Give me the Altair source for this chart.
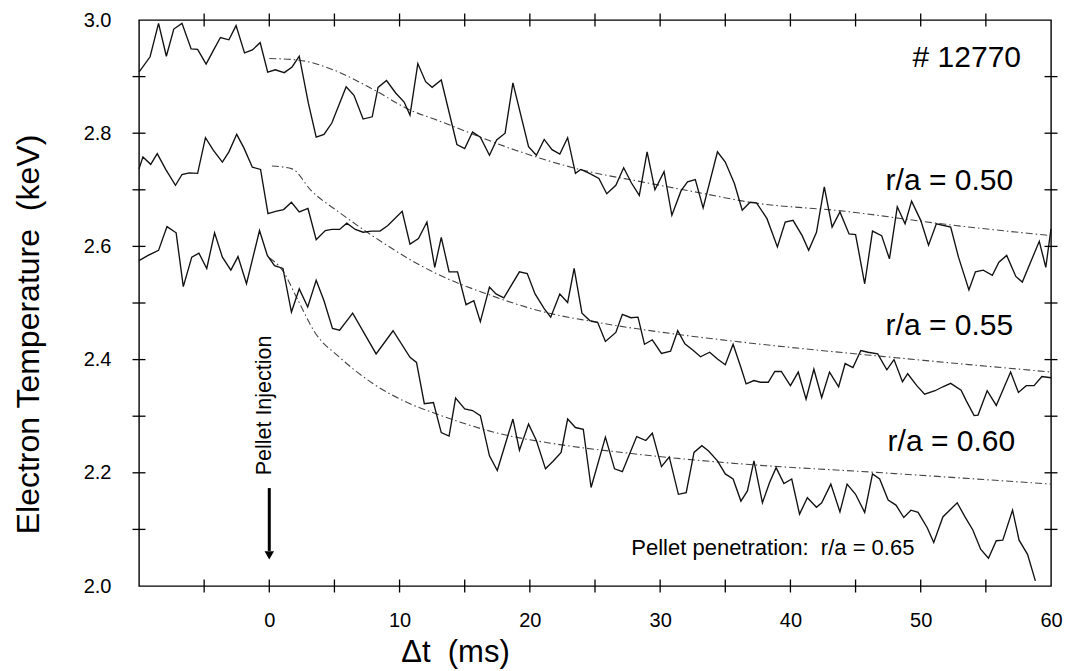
import altair as alt
import pandas as pd

# ---- r/a = 0.50 measured trace ----
t1 = [-10.0, -9.15, -8.5, -7.9, -7.33, -6.7, -6.0, -5.5, -4.85, -4.3,
      -3.75, -3.1, -2.55, -1.9, -1.3, -0.7, -0.12, 0.46, 1.15, 1.75,
      2.3, 3.0, 3.6, 4.2, 4.8, 5.9, 6.5, 7.2, 7.9, 8.35,
      9.0, 9.7, 10.35, 10.8, 11.4, 12.0, 12.5, 13.2, 14.4, 15.0,
      15.6, 16.2, 16.9, 17.45, 18.1, 18.7, 19.9, 20.5, 21.1, 21.7,
      22.3, 22.9, 23.5, 23.9, 24.5, 25.3, 25.9, 26.6, 27.2, 27.8,
      28.4, 29.0, 29.6, 30.3, 30.9, 31.6, 32.1, 32.7, 33.3, 34.4,
      35.0, 35.7, 36.3, 36.9, 37.4, 38.2, 39.0, 39.6, 40.2, 40.9,
      41.4, 42.0, 42.6, 43.2, 43.8, 44.5, 45.0, 45.7, 46.3, 47.0,
      47.6, 48.2, 48.8, 49.3, 50.0, 50.6, 51.2, 52.3, 52.9, 53.7,
      54.2, 54.8, 55.5, 56.0, 56.6, 57.3, 57.8, 59.1, 59.6, 60.0]
T1 = [2.908, 2.935, 2.994, 2.936, 2.984, 2.994, 2.949, 2.948, 2.922, 2.946,
      2.969, 2.965, 2.99, 2.942, 2.947, 2.96, 2.908, 2.912, 2.907, 2.917,
      2.936, 2.853, 2.793, 2.798, 2.818, 2.882, 2.867, 2.825, 2.829, 2.881,
      2.893, 2.871, 2.855, 2.832, 2.923, 2.891, 2.881, 2.894, 2.78, 2.773,
      2.802, 2.793, 2.761, 2.788, 2.8, 2.889, 2.776, 2.761, 2.789, 2.771,
      2.763, 2.792, 2.729, 2.736, 2.73, 2.72, 2.693, 2.708, 2.739, 2.712,
      2.69, 2.767, 2.7, 2.732, 2.655, 2.698, 2.714, 2.718, 2.668, 2.767,
      2.749, 2.711, 2.664, 2.678, 2.677, 2.649, 2.599, 2.643, 2.646, 2.619,
      2.593, 2.625, 2.705, 2.634, 2.661, 2.622, 2.621, 2.534, 2.627, 2.619,
      2.578, 2.67, 2.64, 2.68, 2.646, 2.602, 2.64, 2.634, 2.581, 2.523,
      2.555, 2.558, 2.549, 2.572, 2.584, 2.547, 2.537, 2.609, 2.563, 2.631]

# ---- r/a = 0.55 measured trace ----
t2 = [-10.0, -9.7, -9.1, -8.6, -7.95, -7.2, -6.7, -6.15, -5.5, -4.9,
      -4.3, -3.6, -3.1, -2.5, -1.95, -1.3, -0.67, -0.1, 0.48, 1.1,
      1.7, 2.3, 2.97, 3.6, 4.3, 4.8, 5.4, 5.95, 6.6, 7.2,
      7.85, 8.5, 9.1, 10.2, 10.8, 11.45, 12.1, 12.7, 13.2, 13.8,
      14.45, 15.1, 15.7, 16.2, 16.9, 17.4, 18.0, 19.2, 19.8, 20.4,
      21.1, 21.6, 22.3, 22.9, 23.4, 24.0, 24.6, 25.2, 25.8, 26.6,
      27.1, 27.75, 28.3, 28.8, 29.4, 30.1, 30.8, 31.35, 31.9, 32.55,
      33.1, 33.8, 34.4, 35.0, 35.6, 36.2, 36.6, 37.2, 37.7, 38.3,
      38.8, 39.3, 40.0, 40.6, 41.2, 41.8, 42.4, 43.0, 43.7, 44.2,
      44.8, 45.4, 45.95, 46.7, 47.4, 47.95, 48.6, 49.0, 49.7, 50.3,
      51.1, 51.7, 52.3, 53.1, 53.5, 54.1, 54.4, 55.1, 55.8, 56.9,
      57.5, 58.1, 58.7, 59.3, 60.0]
T2 = [2.737, 2.758, 2.745, 2.764, 2.736, 2.708, 2.727, 2.73, 2.729, 2.792,
      2.77, 2.749, 2.767, 2.798, 2.774, 2.74, 2.736, 2.658, 2.662, 2.665,
      2.678, 2.661, 2.667, 2.612, 2.628, 2.63, 2.63, 2.641, 2.63, 2.625,
      2.627, 2.627, 2.637, 2.662, 2.604, 2.614, 2.643, 2.563, 2.616, 2.555,
      2.555, 2.497, 2.504, 2.467, 2.528, 2.516, 2.509, 2.555, 2.552, 2.516,
      2.49, 2.475, 2.516, 2.501, 2.561, 2.482, 2.469, 2.466, 2.432, 2.448,
      2.48, 2.474, 2.475, 2.427, 2.435, 2.411, 2.415, 2.451, 2.428, 2.416,
      2.405, 2.413, 2.401, 2.391, 2.427, 2.386, 2.357, 2.363, 2.36, 2.36,
      2.379, 2.379, 2.354, 2.378, 2.33, 2.383, 2.333, 2.378, 2.352, 2.393,
      2.386, 2.416, 2.413, 2.41, 2.382, 2.4, 2.361, 2.375, 2.354, 2.339,
      2.345, 2.352, 2.358, 2.346, 2.327, 2.301, 2.302, 2.345, 2.319, 2.378,
      2.342, 2.354, 2.354, 2.37, 2.368]

# ---- r/a = 0.60 measured trace ----
t3 = [-10.0, -9.3, -8.5, -7.85, -7.15, -6.6, -5.95, -5.4, -4.8, -4.2,
      -3.6, -2.95, -2.4, -1.75, -0.75, -0.15, 0.4, 1.05, 1.7, 2.3,
      2.95, 3.6, 4.2, 4.85, 5.4, 6.4, 8.2, 9.5, 10.8, 11.3,
      11.9, 12.6, 13.2, 13.8, 14.3, 15.0, 15.6, 16.2, 16.9, 17.5,
      18.7, 19.2, 19.9, 20.5, 21.2, 21.8, 22.4, 22.9, 23.5, 24.1,
      24.7, 25.8, 26.5, 27.1, 27.7, 28.2, 28.9, 29.4, 30.1, 30.7,
      31.4, 32.0, 32.6, 33.2, 33.7, 34.4, 35.0, 35.6, 36.2, 36.7,
      37.2, 37.85, 38.4, 38.9, 39.5, 40.1, 40.7, 41.3, 42.0, 42.4,
      43.1, 43.8, 44.35, 45.0, 45.7, 46.3, 46.85, 47.5, 48.1, 48.7,
      49.25, 49.8, 50.5, 51.0, 51.7, 52.8, 53.4, 54.0, 54.6, 55.2,
      55.8, 56.3, 57.05, 57.55, 58.2, 58.8]
T3 = [2.575, 2.584, 2.593, 2.635, 2.624, 2.529, 2.581, 2.588, 2.561, 2.624,
      2.581, 2.558, 2.582, 2.534, 2.628, 2.584, 2.566, 2.561, 2.484, 2.525,
      2.493, 2.54, 2.504, 2.455, 2.452, 2.482, 2.41, 2.451, 2.404, 2.395,
      2.322, 2.324, 2.271, 2.265, 2.332, 2.313, 2.31, 2.301, 2.23, 2.204,
      2.295, 2.24, 2.286, 2.257, 2.207, 2.221, 2.236, 2.295, 2.28, 2.277,
      2.174, 2.263, 2.207, 2.202, 2.236, 2.264, 2.257, 2.27, 2.211, 2.228,
      2.162, 2.165, 2.236, 2.248, 2.239, 2.221, 2.198, 2.189, 2.15, 2.168,
      2.221, 2.147, 2.183, 2.209, 2.181, 2.189, 2.127, 2.156, 2.139, 2.147,
      2.18, 2.131, 2.18, 2.162, 2.13, 2.198, 2.189, 2.152, 2.143, 2.121,
      2.134, 2.13, 2.103, 2.077, 2.122, 2.147, 2.122, 2.099, 2.065, 2.049,
      2.08, 2.081, 2.134, 2.081, 2.056, 2.009]

# ---- model (fit) curves ----
f1_t = [0.0, 2.3, 4.9, 8.0, 10.8, 13.0, 18.9, 24.0, 28.6, 33.2, 36.9, 44.2, 51.9, 60.0]
f1_T = [2.932, 2.929, 2.912, 2.877, 2.841, 2.822, 2.770, 2.735, 2.714, 2.694, 2.678, 2.662, 2.639, 2.619]
f2_t = [0.2, 1.75, 3.2, 5.5, 8.1, 11.4, 13.0, 16.7, 21.1, 24.6, 31.2, 37.0, 47.8, 60.0]
f2_T = [2.742, 2.737, 2.699, 2.658, 2.616, 2.569, 2.55, 2.516, 2.484, 2.468, 2.445, 2.429, 2.404, 2.378]
f3_t = [0.0, 1.0, 2.2, 3.5, 5.4, 8.0, 10.8, 12.6, 17.9, 21.7, 27.8, 36.6, 46.4, 60.0]
f3_T = [2.58, 2.558, 2.505, 2.448, 2.404, 2.357, 2.322, 2.306, 2.268, 2.252, 2.234, 2.215, 2.201, 2.18]

# ---- axis ticks / labels ----
x_labels = [0, 10, 20, 30, 40, 50, 60]
y_labels = [2.0, 2.2, 2.4, 2.6, 2.8, 3.0]
x_ticks = [-5, 0, 5, 10, 15, 20, 25, 30, 35, 40, 45, 50, 55]
y_ticks = [2.1, 2.2, 2.3, 2.4, 2.5, 2.6, 2.7, 2.8, 2.9]

# ---- annotations ----
big_text = ["# 12770", "r/a\u00a0=\u00a00.50", "r/a\u00a0=\u00a00.55", "r/a\u00a0=\u00a00.60"]
big_t = [57.7, 57.1, 57.1, 57.25]
big_T = [2.932, 2.715, 2.46, 2.255]

pen_text = ["Pellet penetration:\u00a0\u00a0r/a = 0.65"]
pen_t = [38.65]
pen_T = [2.067]

inj_text = ["Pellet Injection"]
inj_t = [-0.3]
inj_T = [2.319]

arrow_t = [0.0]
arrow_top = [2.173]
arrow_bot = [2.062]
arrow_head = [2.054]

# ---------------------------------------------------------------
FONT = "Liberation Sans"
xs = alt.Scale(domain=[-10, 60], nice=False, zero=False)
ys = alt.Scale(domain=[2.0, 3.0], nice=False, zero=False)

lines_df = pd.concat([
    pd.DataFrame({"t": t1, "T": T1, "s": "0.50"}),
    pd.DataFrame({"t": t2, "T": T2, "s": "0.55"}),
    pd.DataFrame({"t": t3, "T": T3, "s": "0.60"}),
])
fits_df = pd.concat([
    pd.DataFrame({"t": f1_t, "T": f1_T, "s": "0.50"}),
    pd.DataFrame({"t": f2_t, "T": f2_T, "s": "0.55"}),
    pd.DataFrame({"t": f3_t, "T": f3_T, "s": "0.60"}),
])

x_axis = alt.Axis(values=x_labels, labelFontSize=20, ticks=False, tickSize=0,
                  domain=False, grid=False, labelPadding=24, labelFlush=False,
                  labelColor="black", labelFont=FONT, titleFont=FONT,
                  title="\u0394t\u00a0\u00a0(ms)", titleFontSize=31,
                  titleFontWeight="normal", titleColor="black", titleX=316, titleY=66,
                  titleAlign="center", titleBaseline="middle")
y_axis = alt.Axis(values=y_labels, format=".1f", labelFontSize=20, ticks=False, tickSize=0,
                  domain=False, grid=False, labelPadding=28, labelColor="black",
                  labelFont=FONT, titleFont=FONT,
                  title="Electron Temperature\u00a0\u00a0(keV)", titleFontSize=32,
                  titleFontWeight="normal", titleColor="black", titleAngle=270,
                  titleX=-111, titleY=314, titleAlign="center", titleBaseline="middle")

X = alt.X("t:Q", scale=xs, axis=x_axis)
Y = alt.Y("T:Q", scale=ys, axis=y_axis)

measured = alt.Chart(lines_df).mark_line(color="#111111", strokeWidth=1.35).encode(
    x=X, y=Y, detail="s:N",
)

fits = alt.Chart(fits_df).mark_line(
    color="#444444", strokeWidth=1.1, strokeDash=[7, 3, 1.5, 3], interpolate="monotone"
).encode(x=X, y=Y, detail="s:N")

xt_df = pd.DataFrame({"t": x_ticks + x_ticks,
                      "T": [2.0] * len(x_ticks) + [3.0] * len(x_ticks)})
yt_df = pd.DataFrame({"t": [-10] * len(y_ticks) + [60] * len(y_ticks),
                      "T": y_ticks + y_ticks})

xticks = alt.Chart(xt_df).mark_tick(orient="vertical", size=13, thickness=1.3,
                                    color="black", opacity=1).encode(x=X, y=Y)
yticks = alt.Chart(yt_df).mark_tick(orient="horizontal", size=13, thickness=1.3,
                                    color="black", opacity=1).encode(x=X, y=Y)

big = alt.Chart(pd.DataFrame({"t": big_t, "T": big_T, "txt": big_text})).mark_text(
    align="right", baseline="middle", fontSize=30, color="black", font=FONT
).encode(x=X, y=Y, text="txt:N")

pen = alt.Chart(pd.DataFrame({"t": pen_t, "T": pen_T, "txt": pen_text})).mark_text(
    align="center", baseline="middle", fontSize=22, color="black", font=FONT
).encode(x=X, y=Y, text="txt:N")

inj = alt.Chart(pd.DataFrame({"t": inj_t, "T": inj_T, "txt": inj_text})).mark_text(
    align="center", baseline="middle", fontSize=21.5, angle=270, color="black", font=FONT
).encode(x=X, y=Y, text="txt:N")

arrow_df = pd.DataFrame({"t": arrow_t, "T": arrow_top, "T2": arrow_bot, "H": arrow_head})
arrow_line = alt.Chart(arrow_df).mark_rule(color="black", strokeWidth=3).encode(
    x=X, y=Y, y2="T2:Q")
arrow_tip = alt.Chart(arrow_df).mark_point(shape="triangle-down", filled=True, size=90,
                                           color="black", opacity=1).encode(
    x=X, y=alt.Y("H:Q", scale=ys, axis=y_axis))

chart = alt.layer(
    fits, measured, xticks, yticks, big, pen, inj, arrow_line, arrow_tip
).properties(
    width=912, height=566,
    padding={"left": 131, "top": 12, "right": 12, "bottom": 85},
    autosize=alt.AutoSizeParams(type="none"),
    background="white",
).configure(font=FONT).configure_view(stroke="black", strokeWidth=1.4)

chart.save("out.html", embed_options={"renderer": "svg", "actions": False})
